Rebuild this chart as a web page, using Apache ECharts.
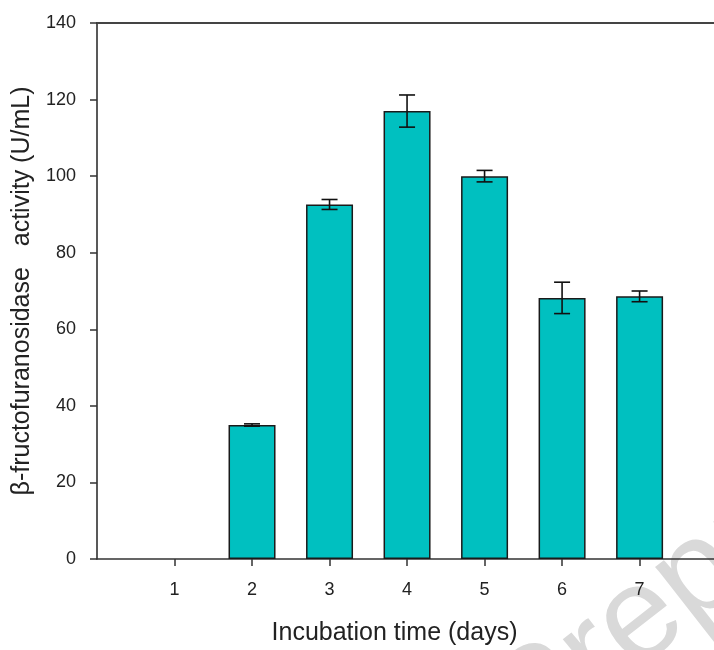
<!DOCTYPE html>
<html>
<head>
<meta charset="utf-8">
<script src="https://cdn.jsdelivr.net/npm/echarts@6/dist/echarts.min.js"></script>
<style>html,body{margin:0;padding:0;background:#fff}#c{width:714px;height:650px}</style>
</head>
<body>
<div id="c"></div>
<script>
var days = [1, 2, 3, 4, 5, 6, 7];
var activity = [0, 35.0, 92.6, 117.0, 100.0, 68.2, 68.6];
var errors = [0, 0.3, 1.3, 4.2, 1.5, 4.1, 1.4];
var yTicks = [0, 20, 40, 60, 80, 100, 120, 140];

var barData = days.map(function (d, i) { return activity[i] > 0 ? [d, activity[i]] : [d, null]; });
var errData = days.map(function (d, i) { return [d, activity[i] - errors[i], activity[i] + errors[i]]; });

var chart = echarts.init(document.getElementById('c'));
var font = 'Liberation Sans, Arial, sans-serif';
chart.setOption({
  animation: false,
  backgroundColor: '#fff',
  grid: { left: 97, top: 23, right: 0, bottom: 91, outerBoundsMode: 'none', containLabel: false },
  xAxis: [{
    type: 'value', min: 0, max: 7.96, interval: 1,
    axisLine: { lineStyle: { color: '#333', width: 1.5 } },
    axisTick: { show: true, length: 7, lineStyle: { color: '#333', width: 1.5 }, customValues: days },
    axisLabel: { color: '#222', fontSize: 18, fontFamily: font, margin: 22, customValues: days },
    splitLine: { show: false },
    name: 'Incubation time (days)', nameLocation: 'middle', nameGap: 62,
    nameTextStyle: { color: '#222', fontSize: 25, fontFamily: font, padding: [0, 22, 0, 0] }
  }, {
    type: 'value', position: 'top', min: 0, max: 7.96,
    axisLine: { show: true, lineStyle: { color: '#444', width: 2 } },
    axisTick: { show: false }, axisLabel: { show: false }, splitLine: { show: false }
  }],
  yAxis: {
    type: 'value', min: yTicks[0], max: yTicks[yTicks.length - 1], interval: 20,
    axisLine: { show: true, lineStyle: { color: '#222', width: 1.5 } },
    axisTick: { show: true, length: 7, lineStyle: { color: '#333', width: 1.5 } },
    axisLabel: { color: '#222', fontSize: 18, fontFamily: font, margin: 21 },
    splitLine: { show: false },
    name: 'β-fructofuranosidase   activity (U/mL)', nameLocation: 'middle', nameGap: 55,
    nameTextStyle: { color: '#222', fontSize: 25, fontFamily: font }
  },
  graphic: [{
    type: 'text', x: 507, y: 725, z: -1, silent: true,
    rotation: 38 * Math.PI / 180,
    style: { text: 'Preprints', x: 0, y: 0, textAlign: 'left', textVerticalAlign: 'middle',
      fontSize: 132, fontFamily: font, fill: '#d9d9d9' }
  }],
  series: [{
    type: 'bar', data: barData, barWidth: 47,
    itemStyle: { color: '#00C0C0', borderColor: '#1a1a1a', borderWidth: 1.5 }
  }, {
    type: 'custom', data: errData, z: 5,
    renderItem: function (params, api) {
      var x = api.value(0), lo = api.value(1), hi = api.value(2);
      if (hi - lo <= 0) return null;
      var pLo = api.coord([x, lo]), pHi = api.coord([x, hi]);
      var w = 8;
      var st = { stroke: '#111', lineWidth: 1.6 };
      return {
        type: 'group', children: [
          { type: 'line', shape: { x1: pLo[0], y1: pLo[1], x2: pHi[0], y2: pHi[1] }, style: st },
          { type: 'line', shape: { x1: pHi[0] - w, y1: pHi[1], x2: pHi[0] + w, y2: pHi[1] }, style: st },
          { type: 'line', shape: { x1: pLo[0] - w, y1: pLo[1], x2: pLo[0] + w, y2: pLo[1] }, style: st }
        ]
      };
    }
  }]
});
</script>
</body>
</html>
